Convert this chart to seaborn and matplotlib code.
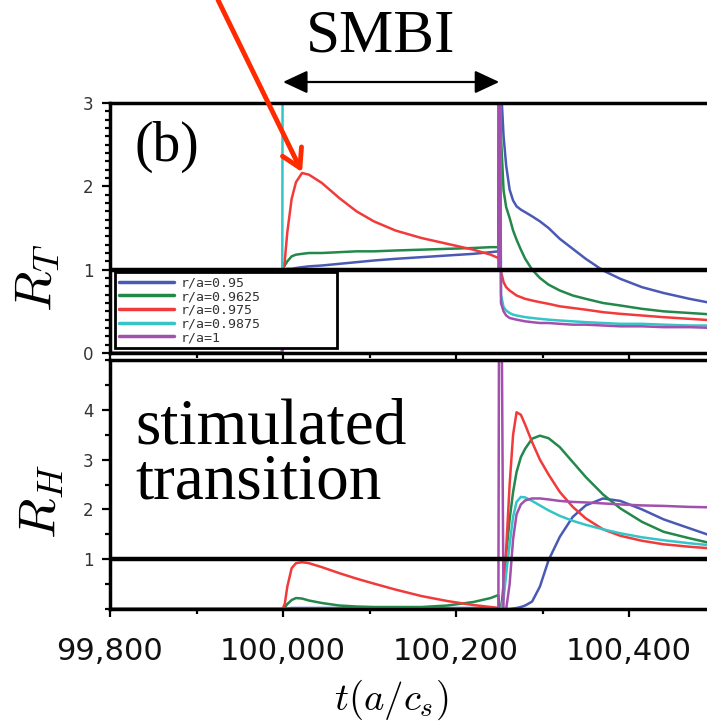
import numpy as np
import pandas as pd
import matplotlib
matplotlib.use('Agg')
import matplotlib.pyplot as plt
from matplotlib.lines import Line2D
from matplotlib.ticker import MultipleLocator, FuncFormatter
import seaborn as sns

# time axis in a/c_s, shared by all radii
t = [99800, 99999, 100000, 100002, 100005, 100010, 100015, 100022, 100030, 100045,
     100065, 100085, 100105, 100130, 100160, 100190, 100220, 100240, 100249, 100250,
     100252, 100255, 100258, 100262, 100266, 100270, 100275, 100280, 100288, 100297,
     100307, 100320, 100335, 100350, 100370, 100390, 100415, 100440, 100470, 100500]

radii = ['r/a=0.95', 'r/a=0.9625', 'r/a=0.975', 'r/a=0.9875', 'r/a=1']
colors = ['#4a5ab4', '#23884a', '#f23a3a', '#35c4c8', '#a24fae']

# R_T (upper panel)
rt_095 = [0, 0, 1.0, 1.0, 1.01, 1.01, 1.02, 1.03, 1.04, 1.05,
          1.07, 1.09, 1.11, 1.13, 1.15, 1.17, 1.19, 1.21, 1.22, 5.0,
          3.2, 2.6, 2.25, 1.96, 1.83, 1.76, 1.72, 1.69, 1.64, 1.58,
          1.5, 1.37, 1.25, 1.13, 0.99, 0.89, 0.79, 0.72, 0.65, 0.59]
rt_09625 = [0, 0, 1.0, 1.05, 1.1, 1.16, 1.18, 1.19, 1.2, 1.2,
            1.21, 1.22, 1.22, 1.23, 1.24, 1.25, 1.26, 1.27, 1.27, 5.0,
            2.6, 1.95, 1.75, 1.62, 1.47, 1.36, 1.24, 1.13, 1.0, 0.9,
            0.82, 0.75, 0.69, 0.65, 0.6, 0.57, 0.53, 0.5, 0.48, 0.46]
rt_0975 = [0, 0, 1.0, 1.1, 1.45, 1.85, 2.05, 2.16, 2.14, 2.04,
           1.86, 1.7, 1.58, 1.47, 1.38, 1.31, 1.24, 1.18, 1.14, 1.1,
           0.98, 0.85, 0.79, 0.75, 0.72, 0.69, 0.67, 0.65, 0.63, 0.61,
           0.59, 0.56, 0.54, 0.52, 0.49, 0.47, 0.45, 0.43, 0.41, 0.39]
rt_09875 = [0, 0, 6.0, 6.0, 6.0, 6.0, 6.0, 6.0, 6.0, 6.0,
            6.0, 6.0, 6.0, 6.0, 6.0, 6.0, 6.0, 6.0, 6.0, 6.0,
            0.7, 0.55, 0.51, 0.48, 0.46, 0.45, 0.44, 0.43, 0.42, 0.41,
            0.4, 0.39, 0.38, 0.37, 0.36, 0.35, 0.35, 0.34, 0.33, 0.33]
rt_1 = [0, 0, 1.0, 1.0, 1.0, 1.0, 1.0, 1.0, 1.0, 1.0,
        1.0, 1.0, 1.0, 1.0, 1.0, 1.0, 1.0, 1.0, 1.0, 6.0,
        0.6, 0.5, 0.45, 0.42, 0.41, 0.4, 0.39, 0.38, 0.37, 0.36,
        0.36, 0.35, 0.34, 0.34, 0.33, 0.32, 0.32, 0.31, 0.31, 0.3]

# R_H (lower panel)
rh_095 = [0, 0, 0.0, 0.01, 0.01, 0.02, 0.02, 0.02, 0.02, 0.02,
          0.02, 0.02, 0.02, 0.02, 0.02, 0.02, 0.02, 0.02, 0.02, 0.0,
          0.0, 0.0, 0.0, 0.0, 0.01, 0.02, 0.04, 0.07, 0.15, 0.45,
          0.98, 1.45, 1.85, 2.08, 2.22, 2.17, 2.0, 1.8, 1.62, 1.44]
rh_09625 = [0, 0, 0.0, 0.03, 0.1, 0.18, 0.22, 0.21, 0.17, 0.12,
            0.07, 0.05, 0.04, 0.04, 0.04, 0.07, 0.14, 0.22, 0.28, 0.02,
            -0.05, 0.5, 1.1, 1.8, 2.35, 2.75, 3.05, 3.22, 3.42, 3.48,
            3.43, 3.25, 2.95, 2.65, 2.3, 2.02, 1.75, 1.55, 1.42, 1.3]
rh_0975 = [0, 0, 0.02, 0.1, 0.45, 0.82, 0.92, 0.94, 0.92, 0.84,
           0.72, 0.61, 0.51, 0.39, 0.26, 0.16, 0.08, 0.04, 0.02, 0.01,
           -0.05, 0.3, 1.2, 2.5, 3.5, 3.95, 3.9, 3.7, 3.35, 3.0,
           2.7, 2.35, 2.05, 1.82, 1.6, 1.47, 1.37, 1.3, 1.25, 1.21]
rh_09875 = [0, 0, 0.0, 0.0, 0.0, 0.0, 0.0, 0.0, 0.0, 0.0,
            0.0, 0.0, 0.0, 0.0, 0.0, 0.0, 0.0, 0.0, 0.0, 0.0,
            0.0, 0.2, 0.7, 1.3, 1.85, 2.15, 2.25, 2.24, 2.17, 2.08,
            1.98, 1.87, 1.77, 1.69, 1.6, 1.52, 1.44, 1.38, 1.32, 1.27]
rh_1 = [0, 0, 0.0, 0.0, 0.0, 0.0, 0.0, 0.0, 0.0, 0.0,
        0.0, 0.0, 0.0, 0.0, 0.0, 0.0, 0.0, 0.0, 0.0, 8.0,
        8.0, -0.2, 0.0, 0.5, 1.4, 1.9, 2.1, 2.18, 2.22, 2.22,
        2.2, 2.17, 2.15, 2.14, 2.12, 2.1, 2.08, 2.07, 2.05, 2.04]

smbi_start, smbi_end = 100000, 100250
red_peak_t, red_peak_rt = 100022, 2.17

rt_all = [rt_095, rt_09625, rt_0975, rt_09875, rt_1]
rh_all = [rh_095, rh_09625, rh_0975, rh_09875, rh_1]
df = pd.concat([pd.DataFrame({'t': t, 'R_T': rt, 'R_H': rh, 'r': name})
                for name, rt, rh in zip(radii, rt_all, rh_all)], ignore_index=True)

sns.set_style('ticks')
plt.rcParams['mathtext.fontset'] = 'cm'
plt.rcParams['text.color'] = 'black'

W, H = 707, 721
fig = plt.figure(figsize=(W / 100, H / 100), dpi=100)

# axes in pixel terms, right edge runs off the figure
x_left = 110
px_per_unit = 173 / 200
xlim = (99800, 100500)
ax_w = (xlim[1] - xlim[0]) * px_per_unit
ax1 = fig.add_axes([x_left / W, (H - 353) / H, ax_w / W, (353 - 103) / H])
ax2 = fig.add_axes([x_left / W, (H - 609) / H, ax_w / W, (609 - 360) / H])

for ax, col, ylim in [(ax1, 'R_T', (0, 3)), (ax2, 'R_H', (0, 5))]:
    sns.lineplot(data=df, x='t', y=col, hue='r', hue_order=radii, palette=colors,
                 estimator=None, sort=False, lw=1.8, legend=False, ax=ax)
    ax.axhline(1, color='black', lw=3.2, zorder=3)
    ax.set_xlim(*xlim)
    ax.set_ylim(*ylim)
    ax.set_xlabel('')
    ax.set_ylabel('')
    ax.spines['right'].set_visible(False)
    for s in ['top', 'bottom', 'left']:
        ax.spines[s].set_linewidth(2.5)
        ax.spines[s].set_color('black')
    ax.xaxis.set_major_locator(MultipleLocator(200))
    ax.xaxis.set_minor_locator(MultipleLocator(100))
    ax.tick_params(which='major', direction='out', length=6, width=1.6, color='black',
                   labelsize=12, labelcolor='#333333', pad=6)
    ax.tick_params(which='minor', direction='out', length=3.5, width=1.6, color='black')

ax1.yaxis.set_major_locator(MultipleLocator(1))
ax1.yaxis.set_minor_locator(MultipleLocator(0.1))
ax1.tick_params(axis='x', labelbottom=False)

ax2.set_yticks([1, 2, 3, 4])
ax2.yaxis.set_minor_locator(MultipleLocator(0.5))
ax2.xaxis.set_major_formatter(FuncFormatter(lambda v, p: f'{v:,.0f}'))
ax2.tick_params(axis='x', labelsize=22, labelcolor='#111111', pad=14)

# legend
handles = [Line2D([], [], color=c, lw=2.5) for c in colors]
leg = ax1.legend(handles, radii, loc='lower left', mode='expand',
                 bbox_to_anchor=(5 / ax_w, 5 / 250, 222 / ax_w, 0.3),
                 prop={'family': 'DejaVu Sans Mono', 'size': 9.5},
                 labelcolor='#333333', handlelength=4.2, handletextpad=0.5,
                 labelspacing=0.05, borderpad=0.3, borderaxespad=0,
                 fancybox=False, framealpha=1)
leg.get_frame().set_edgecolor('black')
leg.get_frame().set_linewidth(2)
leg.set_zorder(5)

serif = 'Liberation Serif'
fig.text(167 / W, 1 - 147 / H, '(b)', fontsize=40, family=serif, ha='center', va='center')
fig.text(381 / W, 1 - 37 / H, 'SMBI', fontsize=44, family=serif, ha='center', va='center')
fig.text(135 / W, 1 - 398 / H, 'stimulated\ntransition', fontsize=47, family=serif,
         ha='left', va='top', linespacing=0.9)

fig.text(36 / W, 1 - 278 / H, '$R_T$', fontsize=38, rotation=90, ha='center', va='center')
fig.text(40 / W, 1 - 502 / H, '$R_H$', fontsize=38, rotation=90, ha='center', va='center')
fig.text(391 / W, 1 - 700 / H, '$t(a/c_s)$', fontsize=28, ha='center', va='center')

# SMBI double arrow
ax1.annotate('', xy=(smbi_start, 1 - 82 / H), xycoords=('data', 'figure fraction'),
             xytext=(smbi_end, 1 - 82 / H), textcoords=('data', 'figure fraction'),
             arrowprops=dict(arrowstyle='<|-|>,head_length=0.75,head_width=0.35',
                             color='black', lw=1.6, mutation_scale=20,
                             shrinkA=0, shrinkB=0),
             annotation_clip=False)

# red arrow to the R_T peak
ax1.annotate('', xy=(red_peak_t, red_peak_rt), xycoords='data',
             xytext=(218 / W, 1.0), textcoords='figure fraction',
             arrowprops=dict(arrowstyle='->,head_length=0.65,head_width=0.38',
                             color='#ff2a00', lw=3.5, mutation_scale=20,
                             shrinkA=0, shrinkB=0),
             annotation_clip=False)

fig.savefig('out.png', dpi=100)
